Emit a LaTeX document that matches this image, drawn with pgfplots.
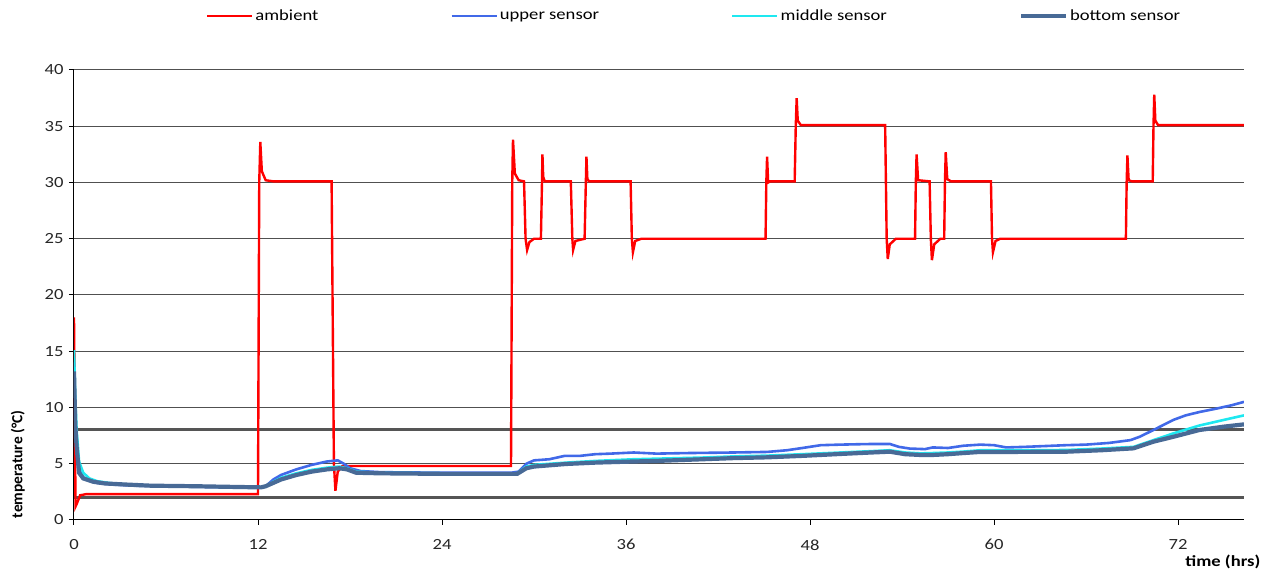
\documentclass[border=0pt]{standalone}
\usepackage{fontspec}
\setmainfont{Carlito}[FakeStretch=1.2]
\newfontfamily\ylabfont{Carlito}
\usepackage{pgfplots}
\pgfplotsset{compat=1.18}
\definecolor{amb}{RGB}{255,0,0}
\definecolor{upp}{RGB}{65,105,232}
\definecolor{mid}{RGB}{30,232,240}
\definecolor{bot}{RGB}{72,106,150}
\definecolor{lim}{RGB}{85,85,85}
\definecolor{grd}{RGB}{80,80,80}
\begin{document}
\begin{tikzpicture}
\useasboundingbox (-74pt,-55pt) rectangle (1206pt,520pt);
\begin{axis}[
  at={(0pt,0pt)}, anchor=south west,
  scale only axis, width=1170pt, height=450pt,
  xmin=0, xmax=76.3, ymin=0, ymax=40,
  clip mode=individual,
  axis x line*=bottom, axis y line*=left,
  axis line style={black, line width=1pt},
  xtick={0,12,24,36,48,60,72},
  ytick={0,5,10,15,20,25,30,35,40},
  ymajorgrids,
  grid style={grd, line width=1pt},
  tick align=outside,
  major tick length=5pt,
  tick style={black, line width=1pt},
  /pgf/number format/assume math mode=true,
  tick label style={font=\fontsize{15.5}{18}\selectfont, text=black!85},
  xticklabel style={yshift=-11pt},
  yticklabel style={xshift=-2pt},
  legend columns=4,
  legend style={draw=none, at={(0.53,1.12)}, anchor=center,
    font=\fontsize{15.5}{18}\selectfont,
    /tikz/every even column/.append style={column sep=130pt}},
  legend image code/.code={\draw[#1] (0pt,0pt) -- (45pt,0pt);},
]
\addplot[lim, line width=3pt, forget plot] coordinates {(0,2) (76.3,2)};
\addplot[lim, line width=3pt, forget plot] coordinates {(0,8) (76.3,8)};

\addplot[amb, line width=2.4pt] coordinates {
(0,18) (0.05,10) (0.1,1.2) (0.2,1.5) (0.4,2.2) (0.8,2.3) (12.0,2.3) (12.08,30) (12.15,33.6) (12.25,31) (12.5,30.2) (13,30.1) (16.8,30.1) (16.95,5) (17.05,2.6) (17.2,4.3) (17.5,4.8) (28.5,4.8) (28.58,30) (28.63,33.8) (28.75,30.8) (29,30.2) (29.35,30.1) (29.45,25) (29.55,24) (29.7,24.7) (30,25) (30.45,25) (30.52,30) (30.55,32.5) (30.6,30.5) (30.7,30.1) (32.4,30.1) (32.5,25) (32.55,24) (32.7,24.8) (33.3,25) (33.38,30) (33.42,32.3) (33.48,30.3) (33.6,30.1) (36.3,30.1) (36.38,25) (36.45,23.8) (36.6,24.8) (37,25) (45.1,25) (45.15,30) (45.2,32.3) (45.27,30) (45.4,30.1) (47.0,30.1) (47.07,35) (47.13,37.5) (47.2,35.5) (47.4,35.1) (52.9,35.1) (53.0,25) (53.07,23.2) (53.2,24.5) (53.6,25) (54.85,25) (54.9,30) (54.95,32.5) (55.05,30.2) (55.8,30.1) (55.88,25) (55.95,23.1) (56.1,24.5) (56.5,25) (56.75,25) (56.8,30) (56.85,32.7) (56.95,30.3) (57.2,30.1) (59.8,30.1) (59.87,25) (59.93,23.8) (60.1,24.8) (60.4,25) (68.6,25) (68.65,30) (68.7,32.4) (68.78,30.2) (69,30.1) (70.35,30.1) (70.4,35) (70.45,37.8) (70.52,35.5) (70.7,35.1) (76.3,35.1)
};
\addlegendentry{ambient}

\addplot[upp, line width=2.6pt] coordinates {
(0,14) (0.08,9) (0.17,6.5) (0.33,4.5) (0.6,3.8) (1,3.5) (1.5,3.3) (2.5,3.15) (4,3.05) (6,3.0) (8,2.95) (10,2.9) (12.2,2.9) (12.5,3.0) (13,3.6) (13.5,4.0) (14.5,4.5) (15.5,4.9) (16.5,5.2) (17.2,5.3) (17.6,5.0) (18,4.6) (18.7,4.35) (20,4.25) (24,4.2) (28.5,4.2) (29,4.3) (29.5,5.0) (30,5.3) (31,5.4) (32,5.7) (33,5.7) (34,5.85) (35,5.9) (36.5,6.0) (38,5.9) (40,5.95) (43,6.0) (45.2,6.05) (46.5,6.2) (47.5,6.4) (48.7,6.65) (50,6.7) (51.7,6.75) (53.2,6.76) (53.8,6.5) (54.5,6.35) (55.5,6.3) (56,6.45) (57,6.4) (58,6.6) (59.1,6.7) (60,6.65) (60.8,6.45) (62,6.5) (64.7,6.65) (66,6.7) (67.5,6.85) (68.9,7.1) (69.5,7.4) (70.4,8.0) (71.7,8.9) (72.5,9.3) (73.4,9.6) (74.5,9.9) (75.5,10.2) (76.3,10.5)
};
\addlegendentry{upper sensor}

\addplot[mid, line width=2.6pt] coordinates {
(0,15.1) (0.08,11) (0.17,8) (0.33,5.2) (0.6,4.2) (1,3.7) (1.5,3.45) (2.5,3.25) (4,3.1) (6,3.0) (10,2.95) (12.2,2.9) (12.5,3.0) (13,3.4) (13.5,3.75) (14.5,4.15) (15.5,4.45) (16.5,4.65) (17.3,4.75) (17.8,4.6) (18.4,4.3) (20,4.2) (24,4.15) (28.9,4.15) (29.5,4.75) (30,4.9) (32.1,5.1) (34,5.25) (36.5,5.4) (38,5.45) (41,5.55) (43,5.65) (45.2,5.72) (47.5,5.85) (50,6.0) (52,6.12) (53.2,6.2) (54.2,6.0) (55.2,5.92) (56,5.95) (57,6.0) (58,6.08) (59.1,6.2) (61,6.2) (64.7,6.22) (67,6.35) (69.1,6.5) (70.4,7.1) (71.7,7.7) (73.4,8.4) (75,8.9) (76.3,9.3)
};
\addlegendentry{middle sensor}

\addplot[bot, line width=4.2pt] coordinates {
(0,13.2) (0.08,8.5) (0.17,6.5) (0.33,4.2) (0.6,3.7) (1.25,3.4) (2,3.25) (3.4,3.15) (5,3.05) (8,3.0) (10,2.95) (12.2,2.9) (12.5,3.0) (13,3.3) (13.5,3.6) (14.5,4.0) (15.5,4.3) (16.5,4.5) (17.3,4.6) (17.8,4.5) (18.4,4.2) (20,4.15) (24,4.1) (28.9,4.1) (29.5,4.6) (30,4.75) (32.1,4.98) (34,5.1) (36.5,5.2) (38,5.25) (41,5.4) (43,5.5) (45.2,5.57) (47.5,5.7) (50,5.87) (52,6.0) (53.2,6.07) (54.2,5.85) (55.2,5.78) (56,5.78) (57,5.85) (58,5.95) (59.1,6.05) (61,6.05) (64.7,6.07) (67,6.2) (69.1,6.37) (70.4,6.96) (71.7,7.4) (73.4,8.0) (75,8.3) (76.3,8.5)
};
\addlegendentry{bottom sensor}

\node[font=\fontsize{15.5}{18}\selectfont\bfseries] at (axis description cs:0.982,-0.093) {time (hrs)};
\node[font=\ylabfont\fontsize{15.5}{18}\selectfont\bfseries, rotate=90] at (axis description cs:-0.048,0.124) {temperature (°C)};
\end{axis}
\end{tikzpicture}
\end{document}
